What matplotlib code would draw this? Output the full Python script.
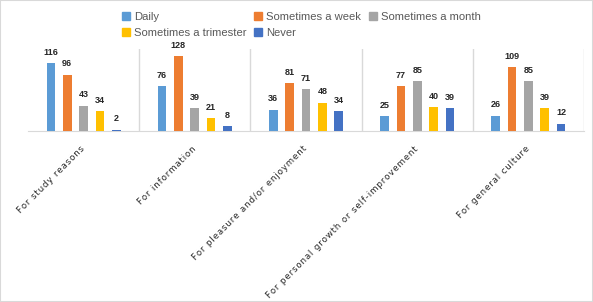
import numpy as np
import matplotlib
matplotlib.use("Agg")
import matplotlib.pyplot as plt
from matplotlib.patches import Patch, Rectangle

categories = ["For study reasons", "For information", "For pleasure and/or enjoyment",
              "For personal growth or self-improvement", "For general culture"]
series_names = ["Daily", "Sometimes a week", "Sometimes a month", "Sometimes a trimester", "Never"]
daily = [116, 76, 36, 25, 26]
week = [96, 128, 81, 77, 109]
month = [43, 39, 71, 85, 85]
trimester = [34, 21, 48, 40, 39]
never = [2, 8, 34, 39, 12]
colors = ["#5B9BD5", "#ED7D31", "#A5A5A5", "#FFC000", "#4472C4"]

plt.rcParams['font.family'] = ['Liberation Sans', 'DejaVu Sans']

fig = plt.figure(figsize=(5.93, 3.02), dpi=100)
ax = fig.add_axes([28 / 593, 1 - 130.7 / 302, (584 - 28) / 593, 81.7 / 302])

x = np.arange(len(categories))
step = 0.147
width = 0.078
all_series = [daily, week, month, trimester, never]
for i, (vals, c) in enumerate(zip(all_series, colors)):
    pos = x + (i - 2) * step
    ax.bar(pos, vals, width=width, color=c, zorder=3)
    for px, v in zip(pos, vals):
        ax.annotate(str(v), (px, v), xytext=(0, 4.5), textcoords="offset points",
                    ha="center", va="bottom", fontsize=6.5, fontweight="bold", color="#262626")

ax.set_xlim(-0.5, 4.5)
ax.set_ylim(0, 140)
for b in np.arange(0.5, 5, 1):
    ax.axvline(b, color="#D9D9D9", lw=1, zorder=1)
for s in ["top", "right", "left"]:
    ax.spines[s].set_visible(False)
ax.spines["bottom"].set_color("#D9D9D9")
ax.set_yticks([])
ax.set_xticks(x)
# the original labels are drawn with wide letter spacing
spaced = ["\u200a".join(c) for c in categories]
ax.set_xticklabels(spaced, rotation=45, ha="right", va="center",
                   rotation_mode="anchor", fontsize=6.2, color="#262626",
                   family=['DejaVu Sans'])
ax.tick_params(axis="x", length=0, pad=12)

handles = [Patch(color=c, label=n) for c, n in zip(colors, series_names)]
order = [0, 3, 1, 4, 2]
fig.legend([handles[i] for i in order], [series_names[i] for i in order],
           ncol=3, loc="upper left", bbox_to_anchor=(114 / 593, 1 - 4 / 302),
           frameon=False, fontsize=8.1, handlelength=0.7, handleheight=0.7,
           handletextpad=0.4, columnspacing=0.65, labelspacing=0.5, borderpad=0.2,
           labelcolor="#595959")

fig.patches.append(Rectangle((0, 0), 1, 1, transform=fig.transFigure, fill=False,
                             edgecolor="#D9D9D9", lw=1.5))

fig.savefig("out.png", dpi=100)
